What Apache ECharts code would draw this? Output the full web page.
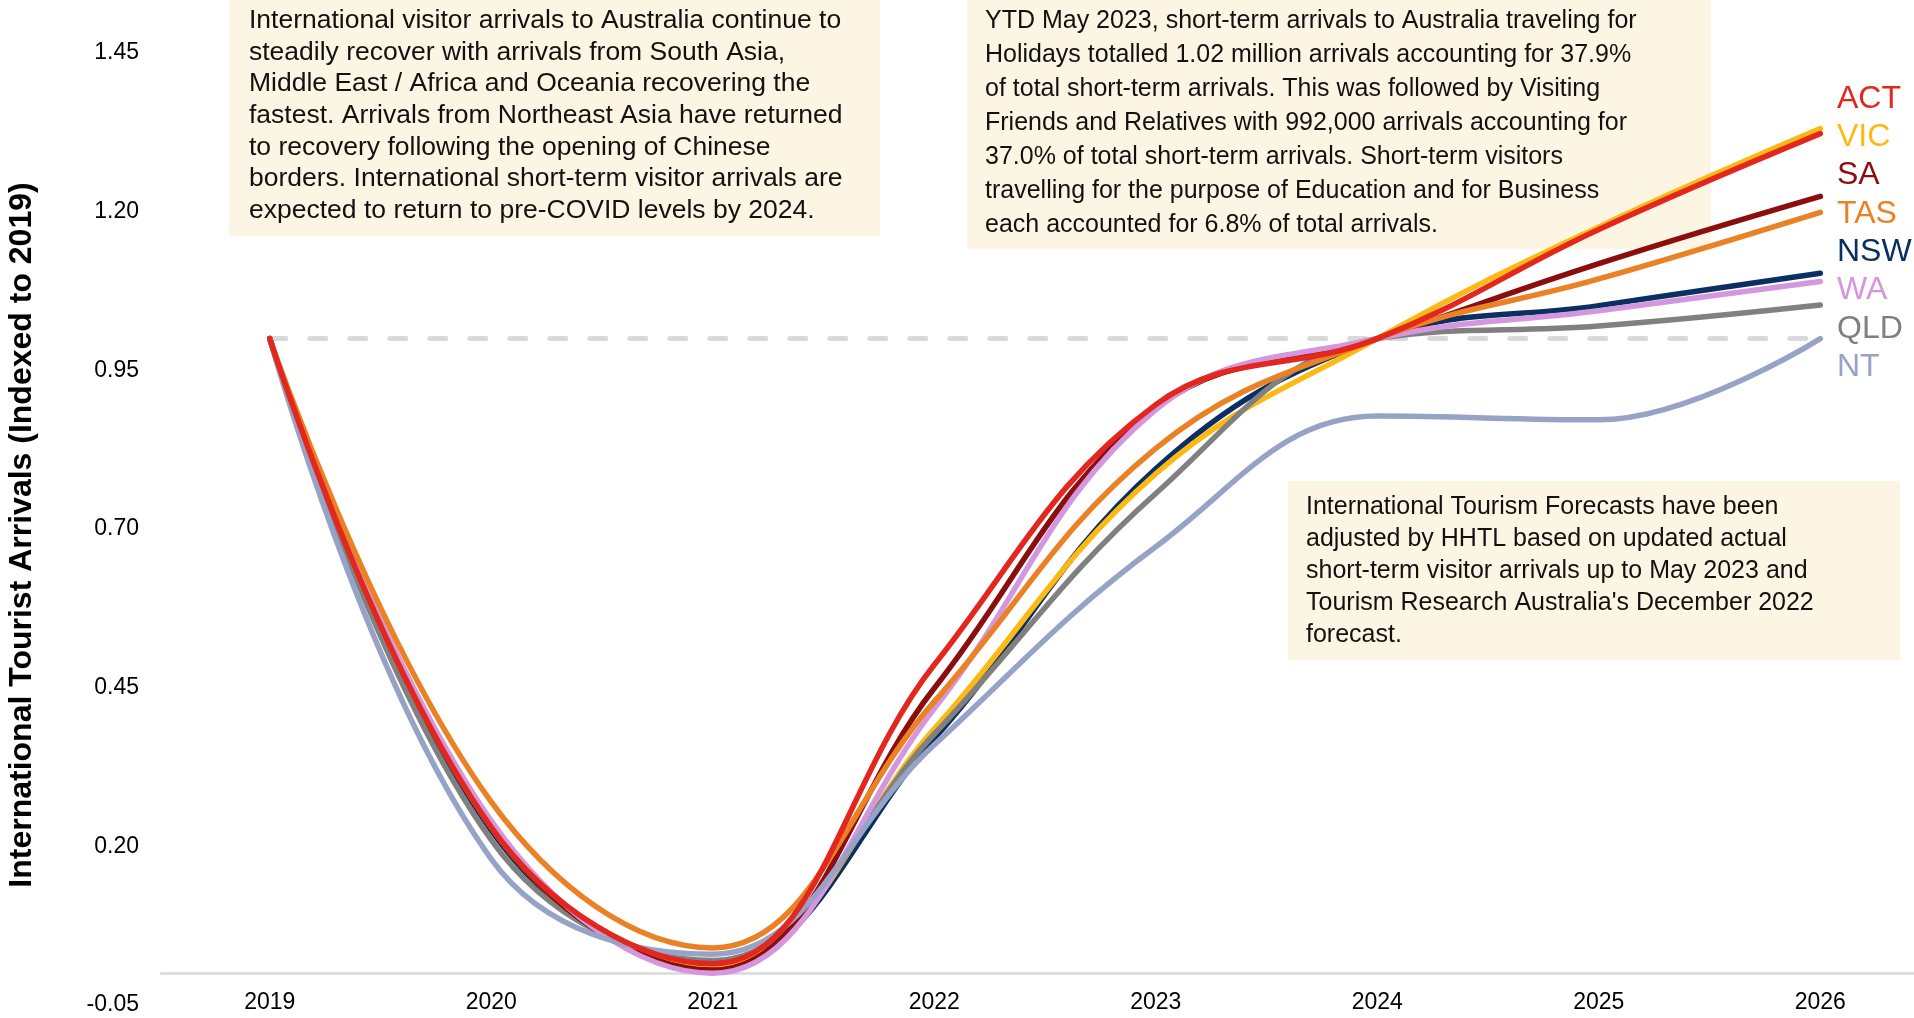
<!DOCTYPE html>
<html>
<head>
<meta charset="utf-8">
<title>International Tourist Arrivals</title>
<script src="https://cdn.jsdelivr.net/npm/echarts@6/dist/echarts.min.js"></script>
<style>
  html, body { margin: 0; padding: 0; background: #fff; }
  #chart { width: 1914px; height: 1018px; }
</style>
</head>
<body>
<div id="chart"></div>
<script>
const years = [2019, 2020, 2021, 2022, 2023, 2024, 2025, 2026]
const yTicks = [-0.05, 0.2, 0.45, 0.7, 0.95, 1.2, 1.45]

// arrivals indexed to 2019, one array per state
const ACT = [1.0, 0.23, 0.015, 0.486, 0.896, 1.0, 1.172, 1.323]
const VIC = [1.0, 0.23, 0.01, 0.385, 0.787, 1.0, 1.176, 1.331]
const SA = [1.0, 0.23, 0.005, 0.449, 0.89, 1.0, 1.118, 1.224]
const TAS = [1.0, 0.27, 0.04, 0.428, 0.827, 1.0, 1.094, 1.199]
const NSW = [1.0, 0.225, 0.012, 0.37, 0.795, 1.0, 1.052, 1.103]
const WA = [1.0, 0.24, 0.0, 0.417, 0.888, 1.0, 1.044, 1.09]
const QLD = [1.0, 0.21, 0.02, 0.377, 0.756, 1.0, 1.02, 1.053]
const NT = [1.0, 0.18, 0.03, 0.36, 0.672, 0.878, 0.872, 1.0]
const baseline = [1, 1, 1, 1, 1, 1, 1, 1]

const legendOrder = ['ACT', 'VIC', 'SA', 'TAS', 'NSW', 'WA', 'QLD', 'NT']

const note1 = [
  'International visitor arrivals to Australia continue to',
  'steadily recover with arrivals from South Asia,',
  'Middle East / Africa and Oceania recovering the',
  'fastest. Arrivals from Northeast Asia have returned',
  'to recovery following the opening of Chinese',
  'borders. International short-term visitor arrivals are',
  'expected to return to pre-COVID levels by 2024.',
]
const note2 = [
  'YTD May 2023, short-term arrivals to Australia traveling for',
  'Holidays totalled 1.02 million arrivals accounting for 37.9%',
  'of total short-term arrivals. This was followed by Visiting',
  'Friends and Relatives with 992,000 arrivals accounting for',
  '37.0% of total short-term arrivals. Short-term visitors',
  'travelling for the purpose of Education and for Business',
  'each accounted for 6.8% of total arrivals.',
]
const note3 = [
  'International Tourism Forecasts have been',
  'adjusted by HHTL based on updated actual',
  'short-term visitor arrivals up to May 2023 and',
  "Tourism Research Australia's December 2022",
  'forecast.',
]

const colors = {
  ACT: '#E3271E',
  VIC: '#FDB913',
  SA: '#8C0D0D',
  TAS: '#EA8124',
  NSW: '#0A2F62',
  WA: '#D497DE',
  QLD: '#808080',
  NT: '#97A3C6',
}

const FONT = '"Liberation Sans", Arial, sans-serif'
const NOTE_BG = '#FCF5E3'

function pairs(values) {
  return years.map((y, i) => [y, values[i]])
}

function stateLine(name, values) {
  return {
    name: name,
    type: 'line',
    data: pairs(values),
    smooth: 0.4,
    showSymbol: false,
    symbol: 'none',
    lineStyle: { width: 5.5, color: colors[name], cap: 'round' },
    itemStyle: { color: colors[name] },
  }
}

function note(x, y, w, h, lines, fontSize, lineHeight, padLeft, padTop) {
  return {
    type: 'group',
    left: x,
    top: y,
    children: [
      { type: 'rect', shape: { x: 0, y: 0, width: w, height: h }, style: { fill: NOTE_BG } },
      {
        type: 'text',
        x: padLeft,
        y: padTop,
        style: {
          text: lines.join('\n'),
          font: fontSize + 'px ' + FONT,
          fill: '#111',
          lineHeight: lineHeight,
        },
      },
    ],
  }
}

const chart = echarts.init(document.getElementById('chart'), null, { renderer: 'canvas' })

const option = {
  backgroundColor: '#fff',
  animation: false,
  textStyle: { fontFamily: FONT },
  grid: { left: 161, right: 0, top: 53, bottom: 13, outerBoundsMode: 'none', containLabel: false },
  legend: {
    orient: 'vertical',
    left: 1827,
    top: 78,
    icon: 'none',
    itemWidth: 0,
    itemHeight: 30,
    itemGap: 6.3,
    selectedMode: false,
    textStyle: { fontSize: 32, lineHeight: 30, fontFamily: FONT },
    data: legendOrder.map(n => ({ name: n, textStyle: { color: colors[n] } })),
  },
  xAxis: {
    type: 'value',
    min: 2018.509,
    max: 2026.423,
    axisLine: { onZero: true, lineStyle: { color: '#D9D9D9', width: 2.5 } },
    axisTick: { show: false },
    splitLine: { show: false },
    axisLabel: {
      customValues: years,
      formatter: v => String(v),
      fontSize: 23,
      color: '#000',
      margin: -14,
    },
  },
  yAxis: {
    type: 'value',
    min: -0.05,
    max: 1.45,
    name: 'International Tourist Arrivals (Indexed to 2019)',
    nameLocation: 'middle',
    nameGap: 123,
    nameTextStyle: {
      fontSize: 32,
      fontWeight: 'bold',
      color: '#000',
      fontFamily: FONT,
      padding: [0, 12, 0, 0],
    },
    axisLine: { show: false },
    axisTick: { show: false },
    splitLine: { show: false },
    axisLabel: {
      customValues: yTicks,
      formatter: v => v.toFixed(2),
      fontSize: 23,
      color: '#000',
      margin: 22,
    },
  },
  series: [
    {
      name: 'Baseline',
      type: 'line',
      data: pairs(baseline),
      showSymbol: false,
      symbol: 'none',
      lineStyle: { width: 5, color: '#D9D9D9', type: [16, 24], cap: 'round' },
      z: 1,
    },
    stateLine('NSW', NSW),
    stateLine('VIC', VIC),
    stateLine('QLD', QLD),
    stateLine('SA', SA),
    stateLine('WA', WA),
    stateLine('TAS', TAS),
    stateLine('NT', NT),
    stateLine('ACT', ACT),
  ],
  graphic: [
    note(229, 0, 651, 236, note1, 26.5, 31.7, 20, 4.8),
    note(967, 0, 744, 249, note2, 25, 34, 18, 3.7),
    note(1288, 481, 612, 179, note3, 25, 32, 18, 10.4),
  ],
}

chart.setOption(option)
</script>
</body>
</html>
